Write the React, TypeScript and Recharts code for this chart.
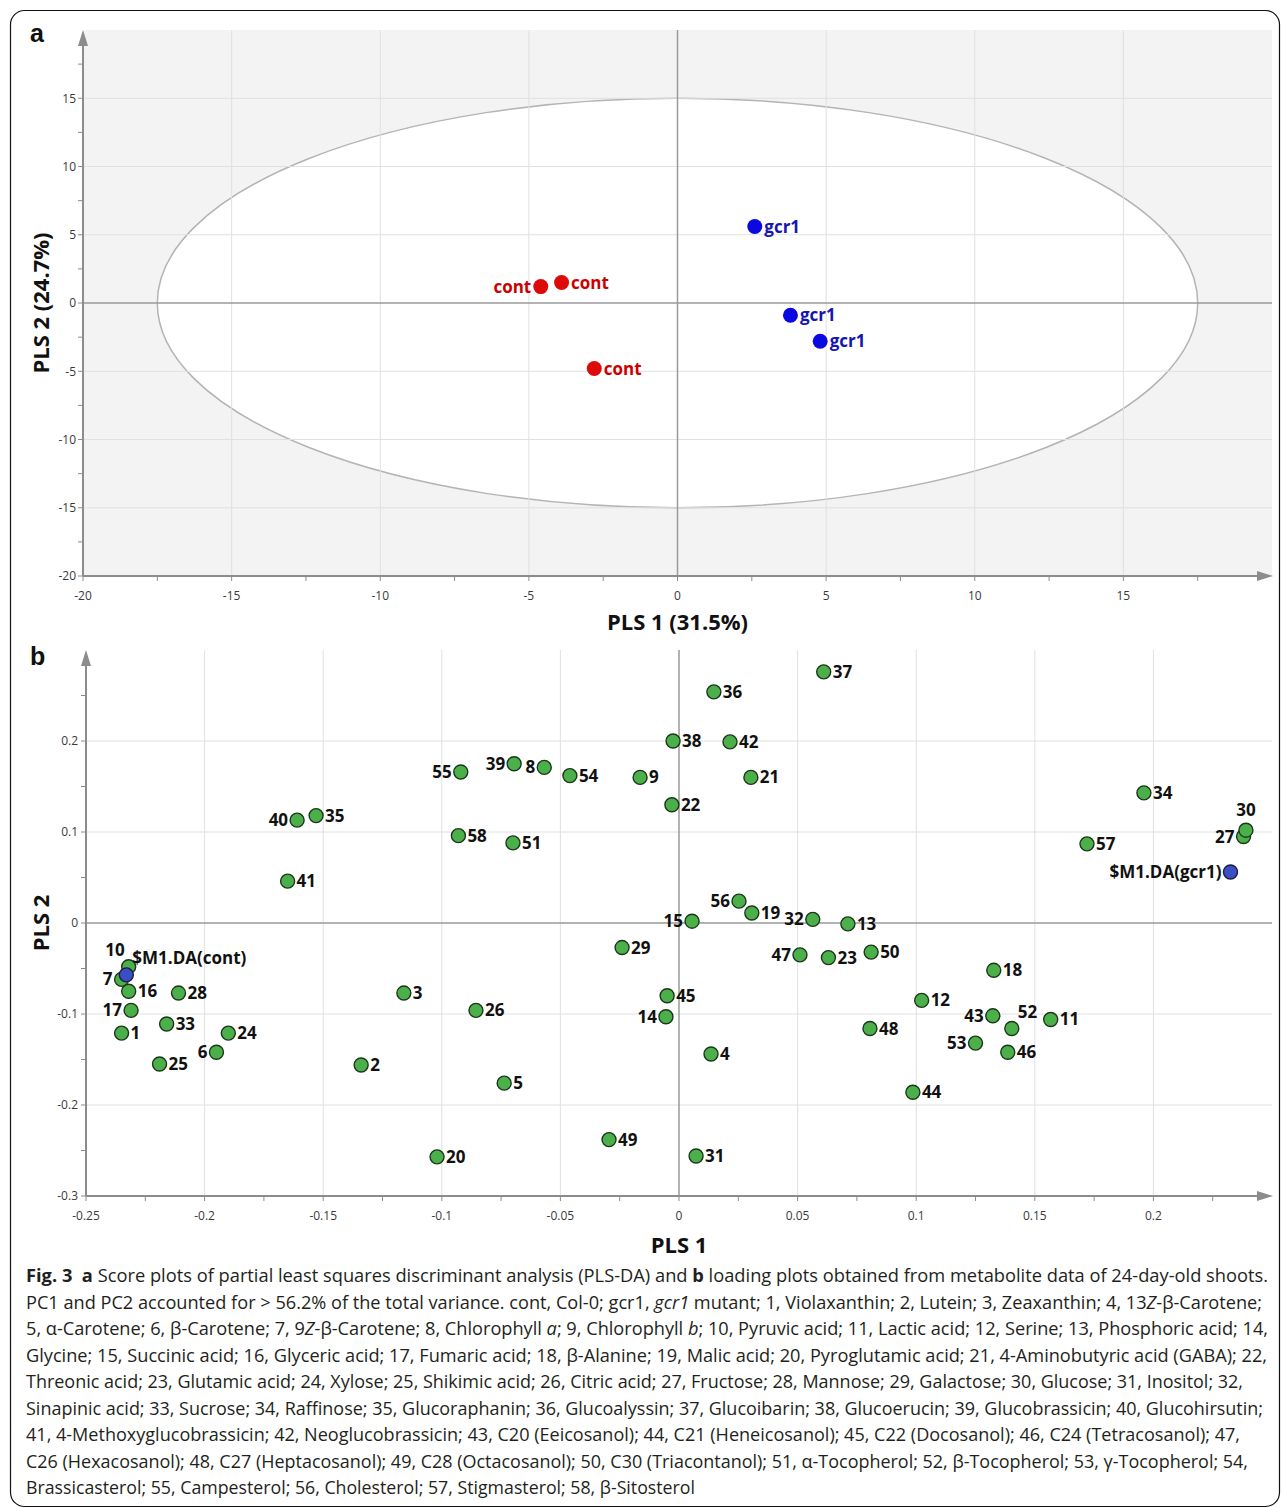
import React from "react";
import {
  ScatterChart,
  Scatter,
  XAxis,
  YAxis,
  ReferenceLine,
  ReferenceArea,
  Label,
} from "recharts";

// ---- panel a: PLS-DA scores ----
const CONT_X = [-3.9, -4.6, -2.8];
const CONT_Y = [1.5, 1.2, -4.8];
const GCR1_X = [2.6, 3.8, 4.8];
const GCR1_Y = [5.6, -0.9, -2.8];

const A_TICKS = [-20, -17.5, -15, -12.5, -10, -7.5, -5, -2.5, 0, 2.5, 5, 7.5, 10, 12.5, 15, 17.5];
const A_LABELED = [-20, -15, -10, -5, 0, 5, 10, 15];
// Hotelling T2 ellipse half axes
const ELLIPSE_X = 17.5;
const ELLIPSE_Y = 15;

// ---- panel b: loadings ----
const METAB_IDS = [
  "1", "2", "3", "4", "5", "6", "7", "8", "9", "10",
  "11", "12", "13", "14", "15", "16", "17", "18", "19", "20",
  "21", "22", "23", "24", "25", "26", "27", "28", "29", "30",
  "31", "32", "33", "34", "35", "36", "37", "38", "39", "40",
  "41", "42", "43", "44", "45", "46", "47", "48", "49", "50",
  "51", "52", "53", "54", "55", "56", "57", "58",
];
const METAB_X = [
  -0.235, -0.134, -0.116, 0.0135, -0.0737, -0.195, -0.235, -0.0568, -0.0164, -0.232,
  0.1567, 0.1023, 0.0712, -0.0055, 0.0055, -0.232, -0.231, 0.1327, 0.0307, -0.102,
  0.0303, -0.003, 0.063, -0.19, -0.219, -0.0856, 0.238, -0.211, -0.024, 0.239,
  0.0072, 0.0564, -0.216, 0.196, -0.153, 0.0147, 0.061, -0.0025, -0.0695, -0.161,
  -0.165, 0.0215, 0.1323, 0.0986, -0.005, 0.1386, 0.051, 0.0805, -0.0295, 0.081,
  -0.07, 0.1403, 0.125, -0.046, -0.092, 0.0253, 0.172, -0.093,
];
const METAB_Y = [
  -0.121, -0.156, -0.077, -0.144, -0.176, -0.142, -0.062, 0.171, 0.16, -0.048,
  -0.106, -0.085, -0.001, -0.103, 0.002, -0.075, -0.096, -0.052, 0.011, -0.257,
  0.16, 0.13, -0.038, -0.121, -0.155, -0.096, 0.095, -0.077, -0.027, 0.102,
  -0.256, 0.004, -0.111, 0.143, 0.118, 0.254, 0.276, 0.2, 0.175, 0.113,
  0.046, 0.199, -0.102, -0.186, -0.08, -0.142, -0.035, -0.116, -0.238, -0.032,
  0.088, -0.116, -0.132, 0.162, 0.166, 0.024, 0.087, 0.096,
];
const MODEL_IDS = ["$M1.DA(cont)", "$M1.DA(gcr1)"];
const MODEL_X = [-0.233, 0.2325];
const MODEL_Y = [-0.057, 0.056];

const B_X_TICKS = [
  -0.25, -0.225, -0.2, -0.175, -0.15, -0.125, -0.1, -0.075, -0.05, -0.025,
  0, 0.025, 0.05, 0.075, 0.1, 0.125, 0.15, 0.175, 0.2, 0.225,
];
const B_X_LABELED = [-0.25, -0.2, -0.15, -0.1, -0.05, 0, 0.05, 0.1, 0.15, 0.2];
const B_Y_TICKS = [-0.3, -0.25, -0.2, -0.15, -0.1, -0.05, 0, 0.05, 0.1, 0.15, 0.2, 0.25];
const B_Y_LABELED = [-0.3, -0.2, -0.1, 0, 0.1, 0.2];

// label placement around a dot (default: right)
type Side = "r" | "l" | "t" | "tl" | "tr";
const B_LABEL_SIDE: Record<string, Side> = {
  "40": "l", "55": "l", "39": "l", "8": "l", "56": "l", "32": "l", "15": "l",
  "47": "l", "14": "l", "6": "l", "7": "l", "17": "l", "43": "l", "53": "l",
  "27": "l", "$M1.DA(gcr1)": "l", "10": "tl", "$M1.DA(cont)": "tr", "52": "tr",
  "30": "t",
};
const A_CONT_SIDE: Side[] = ["r", "l", "r"];

type Seg = { t: string; b?: boolean; i?: boolean };
const CAPTION: Seg[][] = [
  [
    { t: "Fig. 3", b: true }, { t: "  " }, { t: "a", b: true },
    { t: " Score plots of partial least squares discriminant analysis (PLS-DA) and " },
    { t: "b", b: true },
    { t: " loading plots obtained from metabolite data of 24-day-old shoots." },
  ],
  [
    { t: "PC1 and PC2 accounted for > 56.2% of the total variance. cont, Col-0; gcr1, " },
    { t: "gcr1", i: true },
    { t: " mutant; 1, Violaxanthin; 2, Lutein; 3, Zeaxanthin; 4, 13" },
    { t: "Z", i: true },
    { t: "-β-Carotene;" },
  ],
  [
    { t: "5, α-Carotene; 6, β-Carotene; 7, 9" }, { t: "Z", i: true },
    { t: "-β-Carotene; 8, Chlorophyll " }, { t: "a", i: true },
    { t: "; 9, Chlorophyll " }, { t: "b", i: true },
    { t: "; 10, Pyruvic acid; 11, Lactic acid; 12, Serine; 13, Phosphoric acid; 14," },
  ],
  [{ t: "Glycine; 15, Succinic acid; 16, Glyceric acid; 17, Fumaric acid; 18, β-Alanine; 19, Malic acid; 20, Pyroglutamic acid; 21, 4-Aminobutyric acid (GABA); 22," }],
  [{ t: "Threonic acid; 23, Glutamic acid; 24, Xylose; 25, Shikimic acid; 26, Citric acid; 27, Fructose; 28, Mannose; 29, Galactose; 30, Glucose; 31, Inositol; 32," }],
  [{ t: "Sinapinic acid; 33, Sucrose; 34, Raffinose; 35, Glucoraphanin; 36, Glucoalyssin; 37, Glucoibarin; 38, Glucoerucin; 39, Glucobrassicin; 40, Glucohirsutin;" }],
  [{ t: "41, 4-Methoxyglucobrassicin; 42, Neoglucobrassicin; 43, C20 (Eeicosanol); 44, C21 (Heneicosanol); 45, C22 (Docosanol); 46, C24 (Tetracosanol); 47," }],
  [{ t: "C26 (Hexacosanol); 48, C27 (Heptacosanol); 49, C28 (Octacosanol); 50, C30 (Triacontanol); 51, α-Tocopherol; 52, β-Tocopherol; 53, γ-Tocopherol; 54," }],
  [{ t: "Brassicasterol; 55, Campesterol; 56, Cholesterol; 57, Stigmasterol; 58, β-Sitosterol" }],
];
const CAPTION_END = [1268, 1262, 1268, 1267, 1243, 1263, 1240, 1248, 695];

const FONT = "'Open Sans', 'DejaVu Sans', sans-serif";
const AXIS_GREY = "#8c8c8c";
const GRID = "#e0e0e0";
const ZERO = "#9a9a9a";

const contData = CONT_X.map((x, i) => ({ x, y: CONT_Y[i], name: "cont", side: A_CONT_SIDE[i] }));
const gcr1Data = GCR1_X.map((x, i) => ({ x, y: GCR1_Y[i], name: "gcr1", side: "r" as Side }));
const metabData = METAB_IDS.map((name, i) => ({
  x: METAB_X[i], y: METAB_Y[i], name, side: B_LABEL_SIDE[name] || "r",
}));
const modelData = MODEL_IDS.map((name, i) => ({
  x: MODEL_X[i], y: MODEL_Y[i], name, side: B_LABEL_SIDE[name] || "r",
}));

function labelPos(side: Side, cx: number, cy: number, r: number) {
  switch (side) {
    case "l":
      return { x: cx - r - 2, y: cy + 6, anchor: "end" };
    case "t":
      return { x: cx, y: cy - r - 7, anchor: "middle" };
    case "tl":
      return { x: cx - 4, y: cy - r - 4, anchor: "end" };
    case "tr":
      return { x: cx + 6, y: cy - r - 4, anchor: "start" };
    default:
      return { x: cx + r + 2, y: cy + 6, anchor: "start" };
  }
}

const makeDot =
  (fill: string, stroke: string, r: number, textColor: string) => (props: any) => {
    const { cx, cy, payload } = props;
    const p = labelPos(payload.side, cx, cy, r);
    return (
      <g>
        <circle cx={cx} cy={cy} r={r} fill={fill} stroke={stroke} strokeWidth={stroke === "none" ? 0 : 1.4} />
        <text
          x={p.x}
          y={p.y}
          textAnchor={p.anchor as any}
          fontFamily={FONT}
          fontWeight={700}
          fontSize={17}
          fill={textColor}
        >
          {payload.name}
        </text>
      </g>
    );
  };

// axis line with an arrow head at the far end
const ArrowAxis = (props: any) => {
  const { x1, y1, x2, y2 } = props;
  if (Math.abs(y1 - y2) < 1) {
    const left = Math.min(x1, x2);
    const right = Math.max(x1, x2);
    return (
      <g>
        <line x1={left} y1={y1} x2={right - 8} y2={y1} stroke={AXIS_GREY} strokeWidth={2} />
        <polygon points={`${right + 1},${y1} ${right - 15},${y1 - 5} ${right - 15},${y1 + 5}`} fill={AXIS_GREY} />
      </g>
    );
  }
  const top = Math.min(y1, y2);
  const bottom = Math.max(y1, y2);
  return (
    <g>
      <line x1={x1} y1={bottom} x2={x1} y2={top + 8} stroke={AXIS_GREY} strokeWidth={2} />
      <polygon points={`${x1},${top} ${x1 - 5},${top + 16} ${x1 + 5},${top + 16}`} fill={AXIS_GREY} />
    </g>
  );
};

const EllipseShape = (props: any) => {
  const { x, y, width, height } = props;
  return (
    <ellipse
      cx={x + width / 2}
      cy={y + height / 2}
      rx={width / 2}
      ry={height / 2}
      fill="#ffffff"
      stroke="#b4b4b4"
      strokeWidth={1.5}
    />
  );
};

const xTitle = (text: string, offset: number) => (props: any) => {
  const vb = props.viewBox;
  return (
    <text
      x={vb.x + vb.width / 2}
      y={vb.y + vb.height - offset}
      textAnchor="middle"
      fontFamily={FONT}
      fontWeight={700}
      fontSize={22}
      fill="#111"
    >
      {text}
    </text>
  );
};

const yTitle = (text: string) => (props: any) => {
  const vb = props.viewBox;
  const cx = vb.x + 40;
  const cy = vb.y + vb.height / 2;
  return (
    <text
      x={cx}
      y={cy}
      transform={`rotate(-90 ${cx} ${cy})`}
      textAnchor="middle"
      dominantBaseline="central"
      fontFamily={FONT}
      fontWeight={700}
      fontSize={22}
      fill="#111"
    >
      {text}
    </text>
  );
};

const tickStyle = { fontSize: 12, fill: "#3a3a3a", fontFamily: FONT };
const only = (labeled: number[]) => (v: number) => (labeled.includes(v) ? String(v) : "");

function ScorePlot() {
  return (
    <ScatterChart width={1285} height={640} margin={{ top: 30, right: 13, left: 0, bottom: 0 }}>
      <XAxis
        type="number"
        dataKey="x"
        domain={[-20, 20]}
        ticks={A_TICKS}
        interval={0}
        tickFormatter={only(A_LABELED)}
        axisLine={false}
        tickLine={{ stroke: AXIS_GREY }}
        tickSize={5}
        tickMargin={10}
        tick={tickStyle}
        height={64}
      >
        <Label content={xTitle("PLS 1 (31.5%)", 10)} />
      </XAxis>
      <YAxis
        type="number"
        dataKey="y"
        domain={[-20, 20]}
        ticks={A_TICKS}
        interval={0}
        tickFormatter={only(A_LABELED)}
        axisLine={false}
        tickLine={{ stroke: AXIS_GREY }}
        tickSize={5}
        tickMargin={2}
        tick={tickStyle}
        width={83}
      >
        <Label content={yTitle("PLS 2 (24.7%)")} />
      </YAxis>
      <ReferenceArea x1={-20} x2={20} y1={-20} y2={20} fill="#f3f3f3" fillOpacity={1} stroke="none" />
      <ReferenceArea
        x1={-ELLIPSE_X}
        x2={ELLIPSE_X}
        y1={-ELLIPSE_Y}
        y2={ELLIPSE_Y}
        shape={EllipseShape}
      />
      {A_LABELED.filter((v) => v !== 0 && v !== -20).map((v) => (
        <ReferenceLine key={`ax${v}`} x={v} stroke={GRID} strokeWidth={1} />
      ))}
      {A_LABELED.filter((v) => v !== 0 && v !== -20).map((v) => (
        <ReferenceLine key={`ay${v}`} y={v} stroke={GRID} strokeWidth={1} />
      ))}
      <ReferenceLine x={0} stroke={ZERO} strokeWidth={1.5} />
      <ReferenceLine y={0} stroke={ZERO} strokeWidth={1.5} />
      <ReferenceLine y={-20} shape={ArrowAxis} />
      <ReferenceLine x={-20} shape={ArrowAxis} />
      <Scatter data={contData} shape={makeDot("#dd0a0a", "none", 7.5, "#cc0000")} isAnimationActive={false} />
      <Scatter data={gcr1Data} shape={makeDot("#0a0ae0", "none", 7.5, "#1515b0")} isAnimationActive={false} />
    </ScatterChart>
  );
}

function LoadingPlot() {
  const gx = B_X_LABELED.filter((v) => v !== 0 && v !== -0.25);
  const gy = B_Y_LABELED.filter((v) => v !== 0 && v !== -0.3);
  return (
    <ScatterChart width={1285} height={620} margin={{ top: 10, right: 13, left: 0, bottom: 0 }}>
      <XAxis
        type="number"
        dataKey="x"
        domain={[-0.25, 0.25]}
        ticks={B_X_TICKS}
        interval={0}
        tickFormatter={only(B_X_LABELED)}
        axisLine={false}
        tickLine={{ stroke: AXIS_GREY }}
        tickSize={5}
        tickMargin={10}
        tick={tickStyle}
        height={64}
      >
        <Label content={xTitle("PLS 1", 7)} />
      </XAxis>
      <YAxis
        type="number"
        dataKey="y"
        domain={[-0.3, 0.3]}
        ticks={B_Y_TICKS}
        interval={0}
        tickFormatter={only(B_Y_LABELED)}
        axisLine={false}
        tickLine={{ stroke: AXIS_GREY }}
        tickSize={5}
        tickMargin={3}
        tick={tickStyle}
        width={86}
      >
        <Label content={yTitle("PLS 2")} />
      </YAxis>
      {gx.map((v) => (
        <ReferenceLine key={`bx${v}`} x={v} stroke={GRID} strokeWidth={1} />
      ))}
      {gy.map((v) => (
        <ReferenceLine key={`by${v}`} y={v} stroke={GRID} strokeWidth={1} />
      ))}
      <ReferenceLine x={0} stroke={ZERO} strokeWidth={1.5} />
      <ReferenceLine y={0} stroke={ZERO} strokeWidth={1.5} />
      <ReferenceLine y={-0.3} shape={ArrowAxis} />
      <ReferenceLine x={-0.25} shape={ArrowAxis} />
      <Scatter data={metabData} shape={makeDot("#4cb04a", "#1c361c", 7, "#111")} isAnimationActive={false} />
      <Scatter data={modelData} shape={makeDot("#3b4fc4", "#1c1c40", 7, "#111")} isAnimationActive={false} />
    </ScatterChart>
  );
}

export default function App() {
  return (
    <div style={{ position: "relative", width: 1285, height: 1508, background: "#fff" }}>
      <style>{`body{margin:0}`}</style>
      <svg width={1285} height={1508} style={{ position: "absolute", left: 0, top: 0 }}>
        <rect x={10.5} y={10.5} width={1269} height={1496} rx={14} fill="none" stroke="#111" strokeWidth={1.2} />
        <text x={30} y={42} fontFamily="'Liberation Sans', Arial, sans-serif" fontWeight={700} fontSize={25} fill="#111">
          a
        </text>
        <text x={30} y={665} fontFamily="'Liberation Sans', Arial, sans-serif" fontWeight={700} fontSize={25} fill="#111">
          b
        </text>
        {CAPTION.map((segs, i) => (
          <text
            key={i}
            x={26}
            y={1282 + i * 26.5}
            textLength={CAPTION_END[i] - 26}
            lengthAdjust="spacingAndGlyphs"
            fontSize={18}
            fontFamily={FONT}
            fill="#231f20"
            style={{ whiteSpace: "pre" }}
          >
            {segs.map((s, j) => (
              <tspan key={j} fontWeight={s.b ? 700 : 400} fontStyle={s.i ? "italic" : "normal"}>
                {s.t}
              </tspan>
            ))}
          </text>
        ))}
      </svg>
      <div style={{ position: "absolute", left: 0, top: 0 }}>
        <ScorePlot />
      </div>
      <div style={{ position: "absolute", left: 0, top: 640 }}>
        <LoadingPlot />
      </div>
    </div>
  );
}
